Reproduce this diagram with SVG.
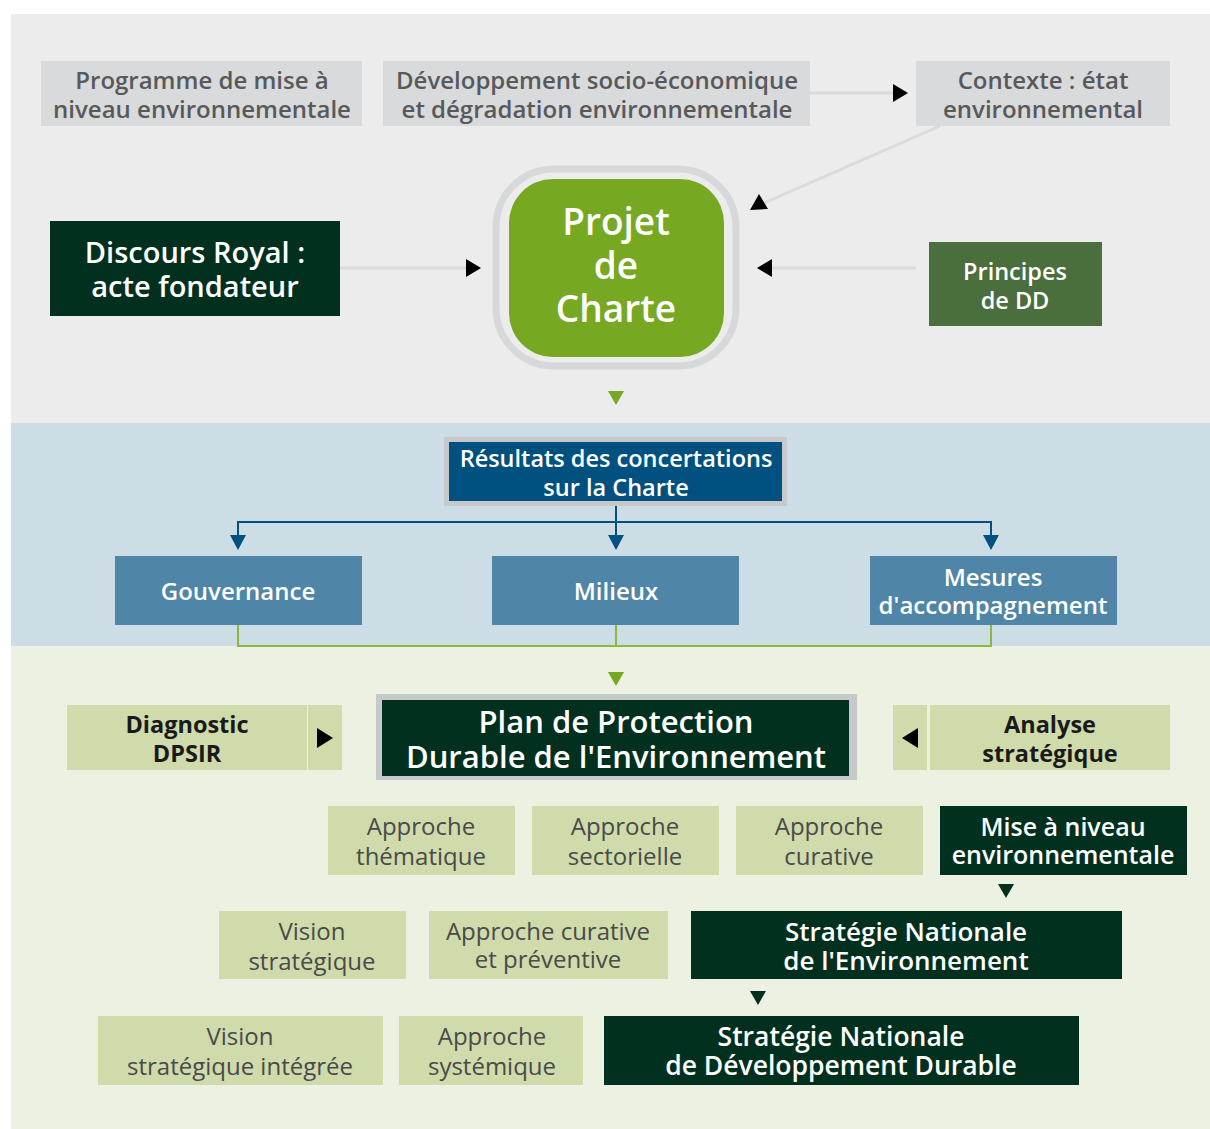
<svg xmlns="http://www.w3.org/2000/svg" width="1210" height="1129" viewBox="0 0 1210 1129">
  <style>
    text { font-family: "Open Sans", "Noto Sans", "DejaVu Sans", sans-serif; text-anchor: middle; }
    .gbox { fill: #D9DADB; }
    .gtxt { fill: #58595B; font-size: 24px; font-weight: 600; }
    .dark { fill: #01301F; }
    .wtxt { fill: #FFFFFF; font-weight: 600; }
    .lg { fill: #CFDBAB; }
    .ltxt { fill: #4A4A4A; font-size: 24px; font-weight: 400; }
    .btxt { fill: #1A1A1A; font-size: 23.5px; font-weight: 700; }
    .blue { fill: #4F86A8; }
    .gline { stroke: #D9DADB; stroke-width: 3; fill: none; }
  </style>

  <!-- background bands -->
  <rect x="0" y="0" width="1210" height="1129" fill="#FFFFFF"/>
  <rect x="11" y="14" width="1199" height="409" fill="#EBECEB"/>
  <rect x="11" y="423" width="1199" height="223" fill="#CCDDE5"/>
  <rect x="11" y="646" width="1199" height="483" fill="#EDF1E1"/>

  <!-- top band -->
  <g id="programme">
    <rect class="gbox" x="41" y="61" width="321" height="65"/>
    <text class="gtxt" x="202" y="89">Programme de mise à</text>
    <text class="gtxt" x="202" y="118">niveau environnementale</text>
  </g>
  <g id="developpement">
    <rect class="gbox" x="383" y="61" width="427" height="65"/>
    <text class="gtxt" x="597" y="89">Développement socio-économique</text>
    <text class="gtxt" x="597" y="118">et dégradation environnementale</text>
  </g>
  <g id="contexte">
    <rect class="gbox" x="916" y="61" width="254" height="65"/>
    <text class="gtxt" x="1043" y="89">Contexte : état</text>
    <text class="gtxt" x="1043" y="118">environnemental</text>
  </g>
  <g id="projet-charte">
    <rect x="496" y="169" width="240" height="197" rx="58" fill="none" stroke="#D7D8DA" stroke-width="7"/>
    <rect x="509" y="179" width="215" height="178" rx="44" fill="#76A822"/>
    <text class="wtxt" x="616" y="235" font-size="37" font-weight="700">Projet</text>
    <text class="wtxt" x="616" y="279" font-size="37" font-weight="700">de</text>
    <text class="wtxt" x="616" y="322" font-size="37" font-weight="700">Charte</text>
  </g>
  <g id="discours-royal">
    <rect class="dark" x="50" y="221" width="290" height="95"/>
    <text class="wtxt" x="195" y="263" font-size="29">Discours Royal :</text>
    <text class="wtxt" x="195" y="297" font-size="29">acte fondateur</text>
  </g>
  <g id="principes-dd">
    <rect x="929" y="242" width="173" height="84" fill="#4A6E3C"/>
    <text class="wtxt" x="1015" y="280" font-size="23.5">Principes</text>
    <text class="wtxt" x="1015" y="309" font-size="23.5">de DD</text>
  </g>

  <!-- consultation band -->
  <g id="resultats">
    <rect x="444" y="437" width="343" height="69" fill="#C6C8CA"/>
    <rect x="449" y="442" width="333" height="59" fill="#005180"/>
    <text class="wtxt" x="616" y="467" font-size="23.5">Résultats des concertations</text>
    <text class="wtxt" x="616" y="496" font-size="23.5">sur la Charte</text>
  </g>
  <g id="gouvernance">
    <rect class="blue" x="115" y="556" width="247" height="69"/>
    <text class="wtxt" x="238" y="600" font-size="24">Gouvernance</text>
  </g>
  <g id="milieux">
    <rect class="blue" x="492" y="556" width="247" height="69"/>
    <text class="wtxt" x="616" y="600" font-size="24">Milieux</text>
  </g>
  <g id="mesures">
    <rect class="blue" x="870" y="556" width="247" height="69"/>
    <text class="wtxt" x="993" y="586" font-size="24">Mesures</text>
    <text class="wtxt" x="993" y="614" font-size="24">d'accompagnement</text>
  </g>

  <!-- plan band -->
  <g id="diagnostic">
    <rect class="lg" x="67" y="705" width="240" height="65"/>
    <rect class="lg" x="308" y="705" width="34" height="65"/>
    <text class="btxt" x="187" y="733">Diagnostic</text>
    <text class="btxt" x="187" y="762">DPSIR</text>
  </g>
  <g id="ppde">
    <rect x="376" y="694" width="481" height="86" fill="#C6C8CA"/>
    <rect class="dark" x="382" y="700" width="467" height="76"/>
    <text class="wtxt" x="616" y="733" font-size="31">Plan de Protection</text>
    <text class="wtxt" x="616" y="768" font-size="31">Durable de l'Environnement</text>
  </g>
  <g id="analyse">
    <rect class="lg" x="893" y="705" width="34" height="65"/>
    <rect class="lg" x="930" y="705" width="240" height="65"/>
    <text class="btxt" x="1050" y="733">Analyse</text>
    <text class="btxt" x="1050" y="762">stratégique</text>
  </g>

  <g id="approche-thematique">
    <rect class="lg" x="328" y="806" width="187" height="69"/>
    <text class="ltxt" x="421" y="835">Approche</text>
    <text class="ltxt" x="421" y="865">thématique</text>
  </g>
  <g id="approche-sectorielle">
    <rect class="lg" x="532" y="806" width="187" height="69"/>
    <text class="ltxt" x="625" y="835">Approche</text>
    <text class="ltxt" x="625" y="865">sectorielle</text>
  </g>
  <g id="approche-curative">
    <rect class="lg" x="736" y="806" width="187" height="69"/>
    <text class="ltxt" x="829" y="835">Approche</text>
    <text class="ltxt" x="829" y="865">curative</text>
  </g>
  <g id="mise-a-niveau">
    <rect class="dark" x="940" y="806" width="247" height="69"/>
    <text class="wtxt" x="1063" y="836" font-size="25">Mise à niveau</text>
    <text class="wtxt" x="1063" y="864" font-size="25">environnementale</text>
  </g>

  <g id="vision-strategique">
    <rect class="lg" x="219" y="911" width="187" height="68"/>
    <text class="ltxt" x="312" y="940">Vision</text>
    <text class="ltxt" x="312" y="970">stratégique</text>
  </g>
  <g id="approche-curative-preventive">
    <rect class="lg" x="429" y="911" width="239" height="68"/>
    <text class="ltxt" x="548" y="940">Approche curative</text>
    <text class="ltxt" x="548" y="968">et préventive</text>
  </g>
  <g id="sne">
    <rect class="dark" x="691" y="911" width="431" height="68"/>
    <text class="wtxt" x="906" y="941" font-size="26">Stratégie Nationale</text>
    <text class="wtxt" x="906" y="970" font-size="26">de l'Environnement</text>
  </g>

  <g id="vision-integree">
    <rect class="lg" x="98" y="1016" width="285" height="69"/>
    <text class="ltxt" x="240" y="1045">Vision</text>
    <text class="ltxt" x="240" y="1075">stratégique intégrée</text>
  </g>
  <g id="approche-systemique">
    <rect class="lg" x="399" y="1016" width="184" height="69"/>
    <text class="ltxt" x="492" y="1045">Approche</text>
    <text class="ltxt" x="492" y="1075">systémique</text>
  </g>
  <g id="sndd">
    <rect class="dark" x="604" y="1016" width="475" height="69"/>
    <text class="wtxt" x="841" y="1046" font-size="26.5">Stratégie Nationale</text>
    <text class="wtxt" x="841" y="1075" font-size="26.5">de Développement Durable</text>
  </g>

  <!-- connectors -->
  <g id="connectors">
    <line class="gline" x1="810" y1="93" x2="895" y2="93"/>
    <polygon points="893,84 908,93 893,102" fill="#000"/>
    <line class="gline" x1="940" y1="126" x2="764" y2="203"/>
    <polygon points="759,194 768,209 750,210" fill="#000"/>
    <line class="gline" x1="340" y1="268" x2="468" y2="268"/>
    <polygon points="466,259 481,268 466,277" fill="#000"/>
    <line class="gline" x1="916" y1="268" x2="770" y2="268"/>
    <polygon points="772,259 757,268 772,277" fill="#000"/>
    <polygon points="608,391 624,391 616,405" fill="#76A822"/>

    <path d="M616,506 V522 M238,537 V522 H991 V537 M616,522 V537" stroke="#005180" stroke-width="2" fill="none"/>
    <polygon points="230,535 246,535 238,550" fill="#005180"/>
    <polygon points="608,535 624,535 616,550" fill="#005180"/>
    <polygon points="983,535 999,535 991,550" fill="#005180"/>

    <path d="M238,625 V646 H991 V625 M616,625 V646" stroke="#8DB83B" stroke-width="2" fill="none"/>
    <polygon points="608,672 624,672 616,686" fill="#76A822"/>

    <polygon points="317,728 333,738 317,748" fill="#000"/>
    <polygon points="918,728 902,738 918,748" fill="#000"/>
    <polygon points="998,884 1014,884 1006,898" fill="#01301F"/>
    <polygon points="750,991 766,991 758,1005" fill="#01301F"/>
  </g>
</svg>
